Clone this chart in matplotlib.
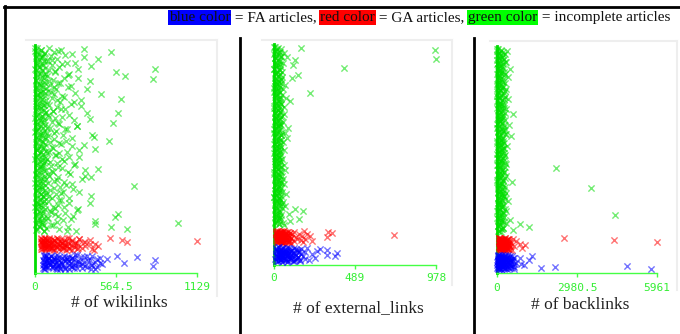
import matplotlib
matplotlib.use('Agg')
import matplotlib.pyplot as plt
from matplotlib.lines import Line2D
import numpy as np

W, H = 680, 334

# x values per article, grouped by class (FA = blue, GA = red, incomplete = green).
# "*_core" / "*_mid" lists are the bulk of low-valued articles, drawn in the same band.
wiki_green = [
    12, 340, 45, 160, 3, 530, 70, 28, 210, 55,
    35, 8, 440, 120, 62, 20, 280, 48, 190, 15,
    390, 25, 72, 836, 5, 140, 565, 40, 66, 230,
    18, 627, 52, 300, 822, 10, 95, 60, 175, 30,
    44, 250, 6, 130, 75, 360, 22, 58, 110, 38,
    460, 15, 68, 200, 33, 600, 50, 150, 9, 270,
    27, 85, 57, 320, 13, 42, 180, 64, 4, 125,
    78, 578, 20, 240, 47, 100, 31, 380, 61, 7,
    39, 160, 543, 11, 70, 290, 24, 53, 210, 16,
    66, 3, 135, 36, 400, 49, 90, 19, 260, 73,
    29, 516, 58, 170, 8, 340, 43, 115, 62, 21,
    418, 14, 80, 225, 37, 55, 145, 5, 310, 68,
    23, 190, 46, 71, 105, 12, 280, 59, 34, 160,
    51, 439, 17, 120, 64, 230, 28, 88, 6, 350,
    390, 40, 75, 150, 11, 205, 56, 32, 260, 19,
    690, 48, 130, 26, 67, 9, 310, 180, 42, 74,
    15, 95, 54, 240, 33, 170, 61, 4, 380, 27,
    70, 22, 200, 45, 140, 13, 290, 58, 110, 36,
    578, 8, 160, 557, 63, 30, 250, 47, 420, 18,
    997, 52, 125, 25, 530, 78, 641, 10, 220, 60,
]
wiki_green_core = [
    3, 41, 17, 66, 8, 52, 29, 74, 12, 58,
    35, 1, 47, 22, 80, 14, 61, 6, 38, 70,
    25, 55, 10, 43, 68, 19, 33, 4, 77, 50,
    16, 63, 28, 9, 45, 72, 21, 57, 2, 36,
    60, 13, 40, 85, 24, 5, 53, 31, 67, 18,
    46, 7, 71, 27, 59, 11, 39, 82, 23, 49,
    0, 34, 65, 15, 51, 26, 76, 44, 9, 62,
    20, 56, 37, 3, 69, 30, 48, 13, 79, 42,
    54, 6, 32, 64, 18, 45, 1, 73, 27, 58,
    11, 39, 84, 22, 50, 7, 66, 35, 16, 61,
]
wiki_green_mid = [
    95, 180, 130, 260, 110, 340, 150, 90, 220, 120,
    170, 300, 100, 140, 240, 85, 200, 125, 380, 160,
    105, 230, 145, 88, 280, 135, 190, 115, 320, 175,
    250, 98, 155, 210, 128, 360, 92, 185, 138, 270,
    118, 165, 290, 102, 225, 148, 82, 195, 410, 132,
    215, 108, 178, 255, 122, 310, 96, 168, 142, 235,
    86, 205, 152, 275, 112, 188, 350, 126, 245, 99,
    160, 330, 134, 93, 218, 172, 265, 107, 198, 143,
    390, 116, 182, 89, 238, 158, 124, 300, 104, 208,
    137, 262, 94, 192, 150, 420, 113, 228, 166, 285,
]
wiki_red = [
    60, 150, 95, 240, 523, 45, 180, 120, 310, 75,
    200, 55, 130, 606, 85, 260, 40, 170, 1129, 100,
    140, 70, 350, 210, 50, 641, 115, 280, 90, 190,
    65, 230, 110, 160, 380, 80, 135, 48, 250, 175,
    300, 95, 58, 205, 125, 440, 72, 155, 220, 105,
    185, 42, 270, 88, 145, 62, 330, 118, 195, 78,
    120, 240, 52, 165, 98, 290, 68, 410, 138, 215,
]
wiki_red_core = [
    45, 220, 70, 310, 95, 160, 55, 380, 130, 260,
    180, 60, 340, 40, 230, 100, 290, 190, 50, 150,
    110, 420, 65, 270, 90, 220, 48, 350, 200, 85,
    155, 300, 240, 105, 72, 185, 400, 42, 260, 125,
]
wiki_blue = [
    150, 80, 290, 200, 571, 110, 360, 60, 240, 170,
    710, 130, 320, 90, 260, 185, 450, 70, 220, 500,
    100, 270, 160, 836, 55, 380, 140, 230, 300, 75,
    210, 120, 420, 65, 180, 340, 95, 620, 250, 145,
    85, 310, 190, 130, 470, 60, 280, 165, 400, 105,
    235, 150, 72, 350, 822, 115, 200, 260, 90, 430,
    175, 58, 330, 125, 270, 210, 68, 390, 155, 240,
]
wiki_blue_core = [
    60, 280, 110, 400, 75, 220, 340, 90, 260, 155,
    200, 430, 130, 85, 370, 65, 240, 120, 310, 95,
    150, 450, 280, 190, 105, 330, 58, 160, 390, 80,
    125, 250, 68, 360, 145, 210, 290, 175, 62, 415,
]

ext_green = [
    5, 163, 22, 40, 972, 12, 35, 60, 3, 28,
    18, 79, 45, 8, 978, 127, 30, 15, 52, 38,
    25, 115, 10, 42, 423, 2, 33, 20, 48, 14,
    36, 7, 145, 26, 50, 109, 16, 40, 4, 30,
    12, 44, 21, 68, 6, 34, 27, 55, 9, 19,
    31, 3, 217, 24, 46, 13, 38, 70, 11, 29,
    8, 97, 37, 17, 43, 25, 2, 58, 32, 14,
    41, 22, 10, 35, 5, 62, 28, 19, 47, 6,
    15, 39, 26, 4, 53, 30, 12, 44, 23, 36,
    27, 85, 9, 33, 18, 48, 3, 65, 21, 40,
    7, 29, 80, 14, 41, 24, 11, 56, 34, 2,
    36, 16, 45, 5, 28, 61, 20, 9, 38, 25,
    13, 42, 23, 32, 8, 50, 17, 39, 4, 30,
    26, 6, 58, 19, 44, 11, 35, 22, 66, 15,
    40, 21, 3, 31, 14, 47, 27, 8, 54, 37,
    10, 45, 29, 18, 63, 5, 33, 24, 41, 16,
    34, 12, 50, 26, 7, 72, 20, 43, 2, 30,
    22, 39, 15, 57, 31, 9, 46, 25, 68, 13,
    48, 127, 28, 6, 175, 36, 19, 88, 42, 11,
    17, 33, 150, 40, 24, 95, 4, 55, 30, 60,
]
ext_green_core = [
    2, 18, 7, 30, 12, 41, 5, 24, 36, 9,
    15, 27, 1, 39, 20, 11, 33, 6, 44, 22,
    8, 31, 16, 3, 26, 38, 13, 21, 4, 35,
    28, 10, 43, 17, 0, 25, 34, 7, 19, 40,
    14, 29, 5, 37, 23, 12, 2, 32, 18, 42,
    9, 26, 39, 15, 4, 21, 30, 11, 36, 1,
    24, 6, 33, 19, 45, 13, 28, 8, 17, 38,
    3, 22, 35, 10, 27, 16, 41, 5, 31, 20,
    12, 37, 7, 25, 0, 34, 18, 29, 9, 43,
    21, 14, 32, 4, 26, 39, 11, 23, 6, 30,
]
ext_red = [
    25, 60, 40, 180, 85, 15, 326, 50, 120, 35,
    70, 20, 95, 45, 350, 30, 150, 65, 10, 200,
    40, 110, 55, 725, 22, 80, 35, 215, 60, 18,
    90, 32, 170, 48, 75, 28, 130, 52, 320, 42,
    15, 65, 38, 100, 58, 190, 25, 85, 45, 140,
    55, 28, 160, 70, 20, 95, 42, 230, 35, 78,
    33, 120, 48, 18, 88, 62, 175, 26, 105, 50,
]
ext_red_core = [
    20, 55, 35, 80, 15, 65, 45, 95, 28, 70,
    50, 12, 85, 38, 60, 25, 75, 42, 18, 90,
    32, 68, 48, 22, 58, 100, 30, 78, 40, 14,
    62, 26, 88, 52, 36, 72, 17, 46, 82, 56,
]
ext_blue = [
    30, 120, 55, 200, 15, 80, 160, 40, 278, 95,
    65, 20, 140, 45, 320, 105, 35, 260, 75, 10,
    150, 50, 90, 25, 185, 60, 380, 115, 38, 70,
    12, 100, 42, 230, 68, 28, 130, 85, 320, 55,
    175, 35, 78, 18, 369, 110, 48, 145, 22, 88,
    58, 248, 30, 95, 140, 8, 72, 190, 45, 125,
    100, 40, 210, 62, 25, 155, 82, 15, 118, 50,
]
ext_blue_core = [
    25, 90, 50, 130, 15, 70, 110, 35, 150, 60,
    95, 20, 75, 140, 45, 120, 30, 85, 55, 160,
    40, 105, 65, 12, 125, 80, 28, 145, 58, 100,
    18, 135, 48, 88, 70, 155, 38, 115, 22, 78,
]

back_green = [
    40, 150, 375, 10, 220, 80, 280, 5, 120, 190,
    60, 250, 15, 170, 330, 95, 30, 210, 140, 70,
    200, 25, 485, 110, 45, 260, 160, 8, 300, 85,
    130, 400, 55, 230, 20, 180, 90, 290, 12, 145,
    75, 185, 240, 35, 350, 100, 160, 50, 270, 18,
    210, 6, 130, 290, 65, 420, 175, 28, 240, 110,
    35, 260, 150, 90, 200, 14, 320, 70, 180, 125,
    280, 600, 45, 165, 230, 95, 20, 310, 140, 60,
    115, 190, 8, 450, 85, 250, 40, 170, 300, 22,
    240, 55, 170, 325, 120, 520, 30, 210, 80, 155,
    16, 140, 270, 60, 190, 100, 380, 38, 230, 175,
    195, 85, 30, 245, 155, 10, 300, 120, 60, 215,
    50, 260, 135, 200, 75, 340, 18, 165, 105, 280,
    2200, 120, 40, 190, 250, 95, 150, 25, 320, 70,
    160, 290, 65, 10, 210, 560, 130, 180, 45, 240,
    90, 35, 3500, 175, 260, 115, 55, 330, 150, 200,
    250, 140, 20, 305, 75, 190, 420, 100, 30, 165,
    60, 215, 160, 45, 280, 125, 350, 15, 230, 90,
    185, 4400, 95, 270, 130, 40, 480, 200, 150, 70,
    320, 860, 110, 45, 1190, 240, 170, 600, 25, 140,
]
back_green_core = [
    10, 150, 60, 240, 30, 190, 90, 280, 5, 120,
    210, 45, 170, 100, 260, 20, 135, 75, 225, 55,
    15, 185, 110, 295, 40, 160, 85, 250, 0, 130,
    200, 65, 275, 35, 145, 95, 230, 25, 175, 115,
    50, 265, 140, 8, 205, 80, 290, 125, 58, 180,
    235, 18, 155, 105, 270, 42, 195, 70, 245, 12,
    165, 88, 300, 28, 128, 215, 62, 255, 38, 148,
    98, 220, 3, 178, 112, 285, 48, 138, 208, 72,
    258, 22, 168, 92, 240, 52, 188, 118, 32, 228,
    82, 198, 6, 158, 268, 102, 44, 218, 142, 68,
]
back_red = [
    120, 300, 80, 2500, 200, 450, 150, 600, 90, 350,
    250, 100, 4360, 180, 380, 130, 720, 220, 85, 320,
    160, 420, 95, 280, 5961, 140, 520, 200, 110, 260,
    330, 75, 240, 860, 170, 400, 125, 300, 1045, 190,
    210, 450, 135, 290, 90, 650, 175, 360, 115, 230,
    140, 310, 80, 500, 205, 155, 380, 100, 270, 950,
    260, 120, 420, 185, 340, 88, 230, 560, 150, 300,
]
back_red_core = [
    90, 300, 160, 420, 110, 240, 380, 130, 200, 460,
    85, 270, 180, 350, 120, 440, 220, 95, 320, 150,
    260, 400, 140, 100, 290, 470, 170, 230, 80, 360,
    190, 330, 115, 250, 410, 135, 280, 210, 480, 155,
]
back_blue = [
    200, 60, 400, 120, 1300, 300, 30, 550, 150, 250,
    90, 450, 180, 860, 20, 350, 650, 100, 280, 40,
    330, 140, 480, 50, 500, 220, 1190, 80, 380, 170,
    25, 600, 260, 110, 420, 520, 190, 700, 65, 310,
    160, 350, 45, 900, 230, 130, 480, 15, 280, 1000,
    70, 240, 4850, 520, 100, 380, 2160, 35, 620, 210,
    300, 10, 1640, 440, 85, 260, 5740, 140, 55, 360,
]
back_blue_core = [
    50, 300, 150, 480, 20, 380, 220, 600, 100, 260,
    420, 80, 340, 180, 550, 40, 280, 130, 500, 240,
    10, 360, 200, 620, 70, 440, 160, 320, 110, 580,
    250, 30, 400, 190, 520, 90, 310, 140, 650, 60,
]

titles = ['# of wikilinks', '# of external_links', '# of backlinks']
x_max = [1129, 978, 5961]
tick_labels = [['0', '564.5', '1129'], ['0', '489', '978'], ['0', '2980.5', '5961']]

# pixel boxes: (x0, x1, y_top, y_bottom), label row y, title y
panel_px = [(35, 197, 45, 273), (274, 436, 44, 265), (497, 657, 46, 273)]
label_y = [287, 278, 288]
title_y = [303, 308, 305]
# light grey frame per panel: (x_left, y_top, x_right, y_bottom)
frame_px = [(26, 40, 217, 296), (262, 40, 452, 285), (490, 41, 677, 290)]

# vertical band for each class (axes fraction): (bottom, top)
bands = {'green': (0.18, 0.99), 'red': (0.10, 0.155), 'blue': (0.015, 0.08)}
colors = {'green': '#00dd00', 'red': '#ff0000', 'blue': '#0000ff'}


def fx(px):
    return px / W


def fy(py):
    return 1 - py / H


def band_rows(n, key):
    # spread n articles evenly down the class band, first one at the top
    lo, hi = bands[key]
    return hi - (np.arange(n) + 0.5) / n * (hi - lo)


fig = plt.figure(figsize=(W / 100, H / 100), dpi=100)
fig.patch.set_facecolor('white')

serif = ['Liberation Serif', 'DejaVu Serif']
mono = ['DejaVu Sans Mono']

panels = [
    {'green': (wiki_green, wiki_green_core, wiki_green_mid),
     'red': (wiki_red, wiki_red_core), 'blue': (wiki_blue, wiki_blue_core)},
    {'green': (ext_green, ext_green_core), 'red': (ext_red, ext_red_core),
     'blue': (ext_blue, ext_blue_core)},
    {'green': (back_green, back_green_core), 'red': (back_red, back_red_core),
     'blue': (back_blue, back_blue_core)},
]

for i, data in enumerate(panels):
    x0, x1, yt, yb = panel_px[i]
    ax = fig.add_axes([fx(x0), fy(yb), fx(x1 - x0), (yb - yt) / H])
    ax.set_xlim(0, x_max[i])
    ax.set_ylim(0, 1)
    for key in ['green', 'red', 'blue']:
        for vals in data[key]:
            vals = np.array(vals, dtype=float)
            ax.scatter(vals, band_rows(len(vals), key), marker='x', s=20,
                       linewidths=1.0, color=colors[key], alpha=0.55,
                       clip_on=False, zorder=3)
    for side in ['top', 'right']:
        ax.spines[side].set_visible(False)
    ax.spines['left'].set_color('#00dd00')
    ax.spines['left'].set_linewidth(2)
    ax.spines['bottom'].set_color('#44ff44')
    ax.spines['bottom'].set_linewidth(1)
    ax.set_yticks([])
    ax.set_xticks([0, x_max[i] / 2, x_max[i]])
    ax.set_xticklabels([])
    ax.tick_params(axis='x', length=3, width=1, color='#44ff44')
    ax.set_facecolor('none')

    # tick labels and axis title
    for v, lab in zip([0, x_max[i] / 2, x_max[i]], tick_labels[i]):
        px = x0 + (x1 - x0) * v / x_max[i]
        fig.text(fx(px), fy(label_y[i]), lab, ha='center', va='center',
                 color='#33ee33', fontsize=8, family=mono)
    fig.text(fx((x0 + x1) / 2 + 3), fy(title_y[i]), titles[i], ha='center',
             va='center', fontsize=12.5, family=serif, color='#222222')

    # light grey panel border
    lx, ty, rx, by = frame_px[i]
    fig.add_artist(Line2D([fx(lx), fx(rx)], [fy(ty), fy(ty)], color='#eeeeee', lw=1.5))
    fig.add_artist(Line2D([fx(rx), fx(rx)], [fy(ty), fy(by)], color='#eeeeee', lw=1.5))

# black table borders
fig.add_artist(Line2D([fx(4), fx(680)], [fy(6.5), fy(6.5)], color='black', lw=2))
fig.add_artist(Line2D([fx(5), fx(5)], [fy(6), fy(334)], color='black', lw=2))
fig.add_artist(Line2D([fx(240), fx(240)], [fy(38), fy(334)], color='black', lw=2))
fig.add_artist(Line2D([fx(474), fx(474)], [fy(38), fy(334)], color='black', lw=2))

# colour key along the top
key_parts = [('blue color', '#0000ff'), (' = FA articles, ', None),
             ('red color', '#ff0000'), (' = GA articles, ', None),
             ('green color', '#00ff00'), (' = incomplete articles', None)]
renderer = fig.canvas.get_renderer()
x_cur = 169
for text, bg in key_parts:
    kw = {}
    if bg:
        kw['bbox'] = dict(boxstyle='square,pad=0.05', fc=bg, ec='none')
    t = fig.text(fx(x_cur), fy(21), text, ha='left', va='baseline',
                 fontsize=11, family=serif, color='#111111', **kw)
    bb = t.get_window_extent(renderer=renderer)
    x_cur += bb.width

fig.savefig('out.png', dpi=100)
